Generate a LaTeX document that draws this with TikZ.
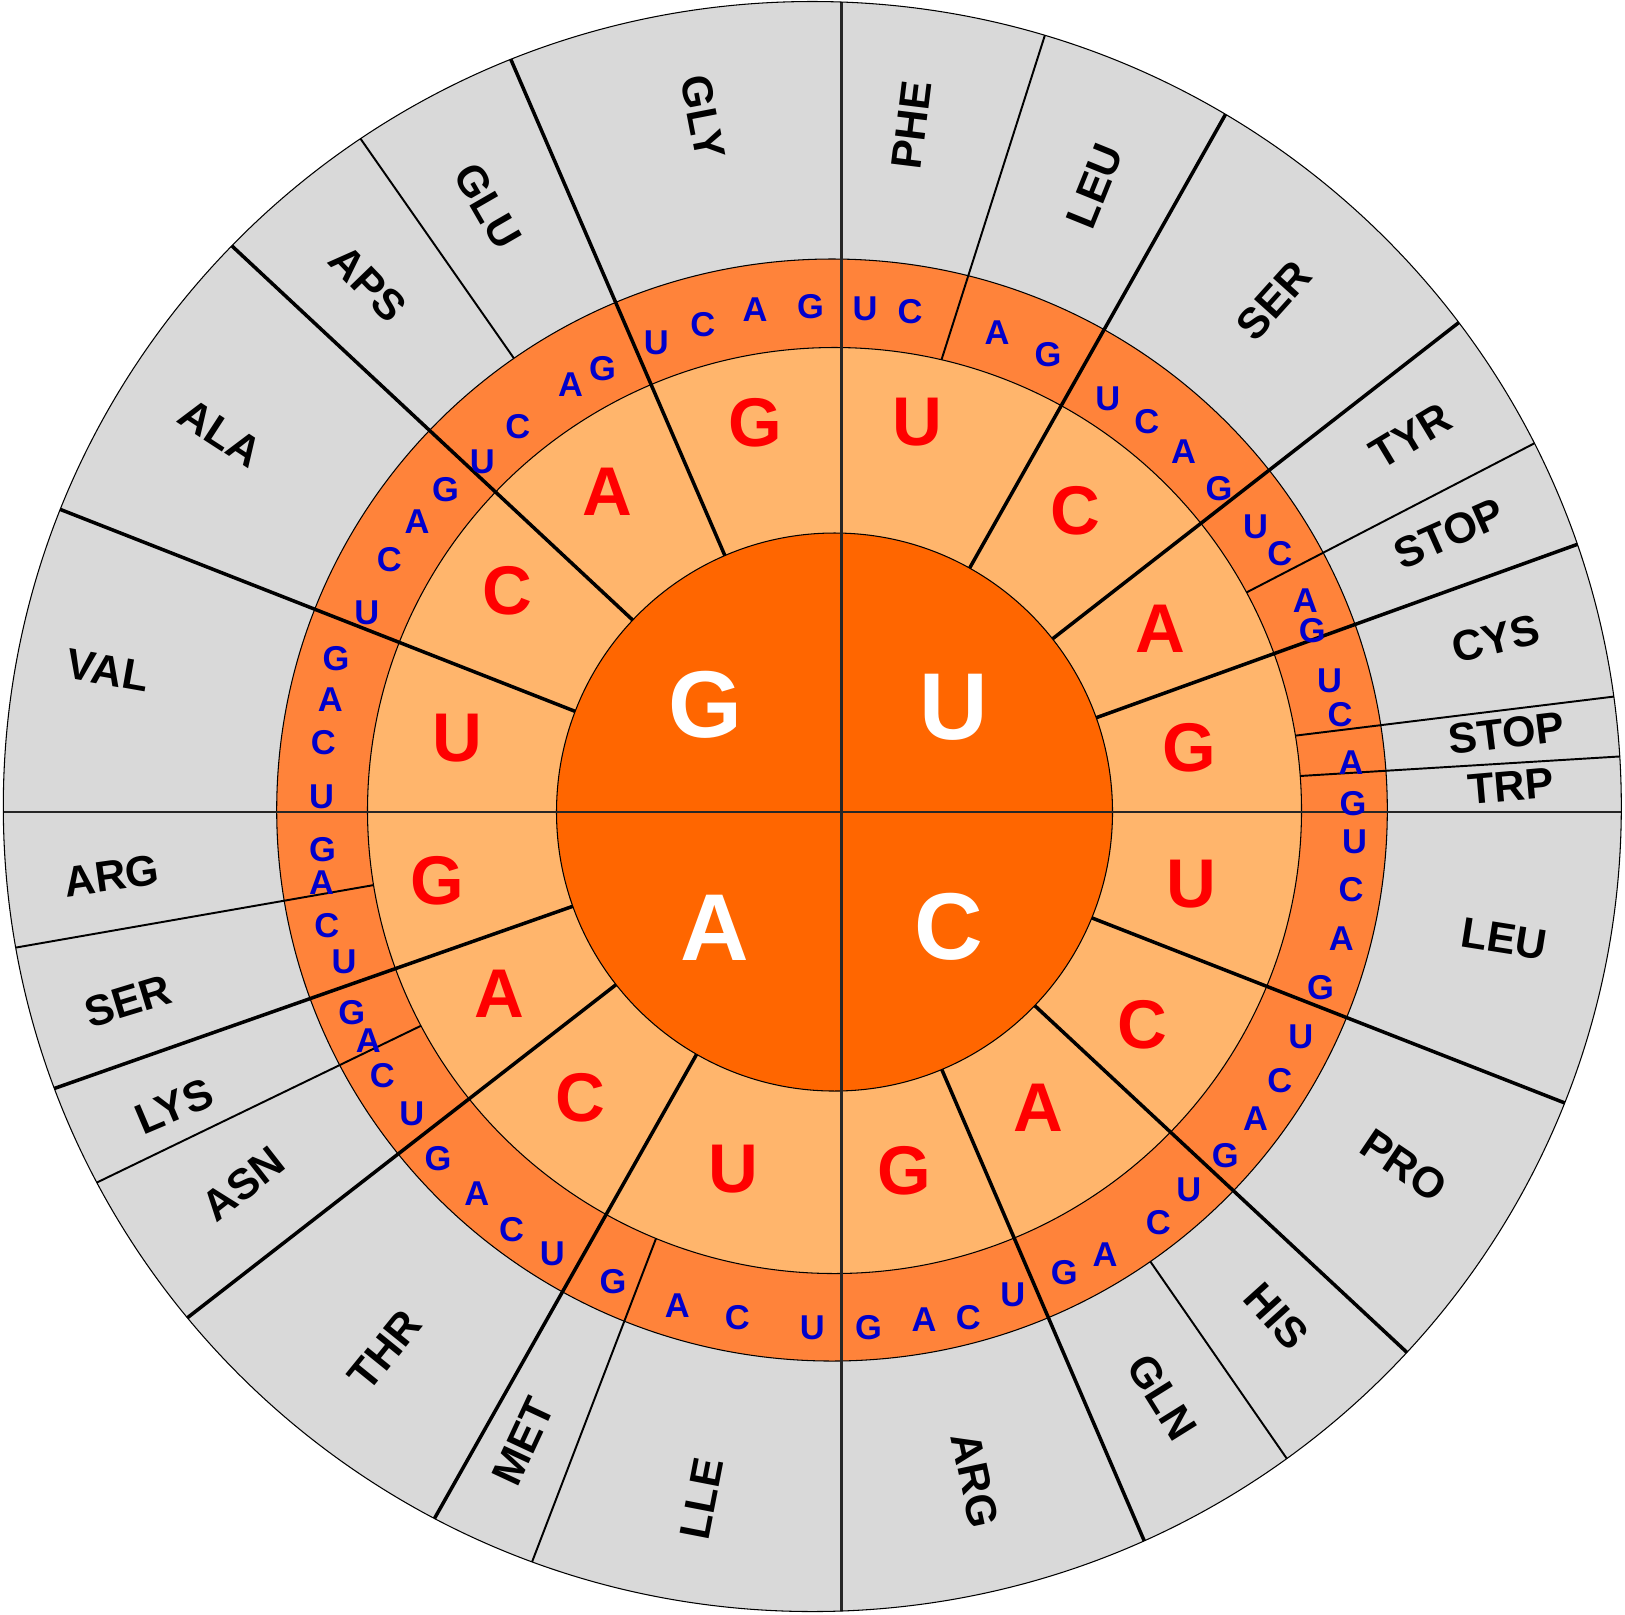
\documentclass[tikz,border=0pt]{standalone}
\usepackage{fontspec}
\setmainfont{Liberation Sans}
\definecolor{ringgray}{RGB}{217,217,217}
\definecolor{ringdark}{RGB}{255,131,58}
\definecolor{ringlight}{RGB}{255,181,108}
\definecolor{core}{RGB}{255,102,0}
\definecolor{codonblue}{RGB}{0,0,204}
\begin{document}
\begin{tikzpicture}[x=0.01cm,y=-0.01cm,
    edge/.style={line width=0.3pt},
    thickline/.style={line width=1pt,shorten <=-8pt,shorten >=-8pt},
    thinline/.style={line width=0.55pt,shorten <=-8pt,shorten >=-8pt},
    crossline/.style={line width=0.7pt,black!85},
    first/.style={white,inner sep=0pt,font=\fontsize{27}{27}\selectfont\bfseries},
    second/.style={red,inner sep=0pt,font=\fontsize{19.6}{20}\selectfont\bfseries},
    third/.style={codonblue,inner sep=0pt,font=\fontsize{9.8}{10}\selectfont\bfseries},
    amino/.style={inner sep=0pt,font=\fontsize{12.2}{13}\selectfont\bfseries}]
    \useasboundingbox (0,0) rectangle (1625,1614);
    \fill[ringgray] (812.3,806.5) ellipse (809 and 805);
    \begin{scope}
        \clip (812.3,806.5) ellipse (809 and 805);
        \draw[thinline] (1151.3,1262.9) -- (1286.1,1457.6);
        \draw[thinline] (513.7,358) -- (361.5,140.1);
        \filldraw[edge,fill=ringdark] (832,810) ellipse (555.3 and 551);
        \foreach \xa/\ya/\xb/\yb in {941.5/359.7/1044.7/35.8, 1247.9/591.7/1532.6/444.2,
            1295.5/735.6/1613.5/696.6, 1301.4/775.9/1620.5/756.4, 655.7/1239.3/532/1562,
            418.8/1026.8/97.3/1182.3, 367.7/886.1/15.6/947.6}
            \draw[thinline] (\xa,\ya) -- (\xb,\yb);
        \filldraw[edge,fill=ringlight] (834.5,810.5) ellipse (467 and 463);
        \foreach \xa/\ya/\xb/\yb in {971/565.6/1225.3/114.7, 1053.7/637.9/1457.8/323.3,
            1096.7/717.5/1576.3/544.7, 1093.2/918.4/1564.9/1103, 1037/1007.7/1406.7/1352.2,
            942/1070/1144.3/1541, 696.3/1054.8/434.5/1518.4, 614/986.2/187.7/1317.5,
            573/906.2/55.6/1088, 575.8/711.6/62.6/510.3, 632.1/619.5/233.6/247.5,
            723.2/551.7/511/59.8}
            \draw[thickline] (\xa,\ya) -- (\xb,\yb);
        \filldraw[edge,fill=core] (834.5,812) ellipse (278 and 279);
        \draw[crossline] (841.5,0) -- (841.5,1614) (0,812) -- (1625,812);
    \end{scope}
    \draw[edge] (812.3,806.5) ellipse (809 and 805);

    \node[first] (cG) at (705,705) {G};
    \node[first] (cU) at (954,707) {U};
    \node[first] (cA) at (715,928) {A};
    \node[first] (cC) at (949,927) {C};

    \foreach \x/\y/\t [count=\i] in {457/738/U, 507/591/C, 607.5/492/A, 755/423/G,
        917/422/U, 1075/511/C, 1160.6/628.8/A, 1188.8/747.7/G,
        1191.2/884.3/U, 1142.6/1025.1/C, 1038.8/1108.2/A, 904.3/1170.8/G,
        732.9/1169/U, 580/1097.8/C, 499.8/993.8/A, 437.3/880.8/G}
        \node[second] (s\i) at (\x,\y) {\t};

    \foreach \x/\y/\t [count=\i] in {321.5/796.4/U, 323.3/742.5/C, 330.2/700.1/A, 336.1/658.4/G,
        366.7/613.2/U, 389.3/560/C, 417.1/521.4/A, 445.6/490.1/G,
        482.4/461.6/U, 517.9/426.8/C, 570.6/385/A, 602.6/369/G,
        656.4/343/U, 702.8/324.2/C, 755/309.7/A, 810.5/306.3/G,
        865/308.3/U, 910/311.7/C, 997/333/A, 1048/355/G,
        1107.8/399/U, 1146.7/421.3/C, 1183.6/451.2/A, 1219/488.4/G,
        1255.5/526.6/U, 1279.9/554.1/C, 1305.2/601/A, 1312.2/630.6/G,
        1329.6/681/U, 1340/715/C, 1351.1/762.7/A, 1352.9/803.3/G,
        1354.6/841.6/U, 1351.1/889.5/C, 1341.4/938.2/A, 1320.5/987.9/G,
        1300.7/1036.6/U, 1279.9/1081/C, 1255.5/1118.7/A, 1225.3/1155.2/G,
        1188.8/1189.9/U, 1158.2/1222.9/C, 1105/1254.2/A, 1064.2/1272.3/G,
        1012.7/1295.2/U, 968.2/1317.5/C, 924.1/1319.6/A, 868.5/1327.9/G,
        812.2/1327.9/U, 737.4/1317.8/C, 677.3/1305.3/A, 613/1282/G,
        552.2/1254.2/U, 511.6/1229.2/C, 476.9/1193.4/A, 438/1158.6/G,
        411.9/1113.4/U, 382.3/1075.2/C, 368.4/1040.7/A, 351.8/1013/G,
        344.1/961.8/U, 326.7/926/C, 321.5/882.6/A, 322.6/849.6/G}
        \node[third] (t\i) at (\x,\y) {\t};

    \foreach \x/\y/\r/\t [count=\i] in {703/117/-79/GLY, 911.5/125/83/PHE, 1095/186/68/LEU,
        1274/300.5/48/SER, 1411/436/31/TYR, 1449/533.5/24/STOP, 1496/638.5/14/CYS,
        1506.5/733/7/STOP, 1510.5/786/5/TRP, 1504/939/-9/LEU, 1404/1165.7/-34/PRO,
        1276.5/1316.5/-48/HIS, 1162/1397/-58/GLN, 975/1480/-78/ARG, 701.6/1498.5/79/LLE,
        523.4/1441.5/65/MET, 385/1350/51/THR, 243.4/1184/38/ASN, 174/1106/23/LYS,
        128/1001/17/SER, 111.5/876/8/ARG, 107.8/670.5/-10/VAL, 220.7/433/-33/ALA,
        368.2/283.5/-46/APS, 487.7/206/-60/GLU}
        \node[amino,rotate=\r] (aa\i) at (\x,\y) {\t};
\end{tikzpicture}
\end{document}
